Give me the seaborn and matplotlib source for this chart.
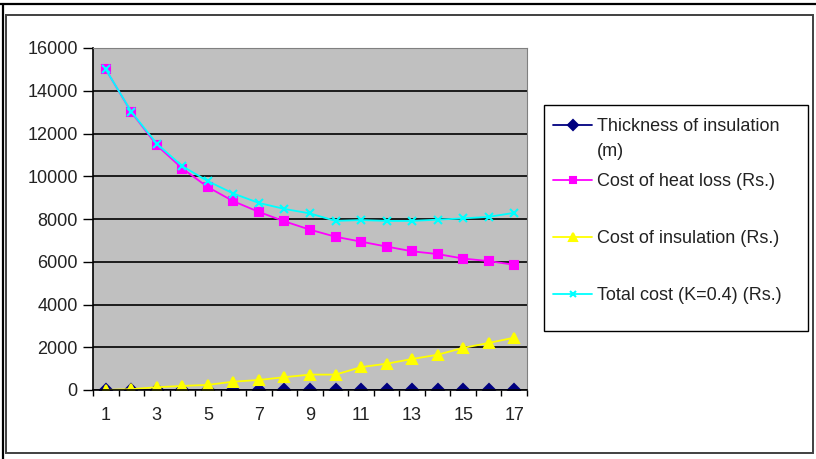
import matplotlib.pyplot as plt
import seaborn as sns
from matplotlib.lines import Line2D
from matplotlib.patches import Rectangle

# Data
steps = list(range(1, 18))
thickness = [0.01, 0.02, 0.03, 0.04, 0.05, 0.06, 0.07, 0.08, 0.09,
             0.10, 0.11, 0.12, 0.13, 0.14, 0.15, 0.16, 0.17]
heat_loss = [15000, 13000, 11450, 10360, 9490, 8830, 8330, 7890, 7500,
             7170, 6940, 6710, 6490, 6360, 6150, 6030, 5860]
insulation = [0, 40, 130, 190, 240, 390, 470, 600, 720,
              720, 1070, 1230, 1450, 1650, 1970, 2200, 2450]
total = [15000, 13020, 11520, 10470, 9770, 9190, 8750, 8470, 8260,
         7910, 7950, 7910, 7910, 7970, 8030, 8100, 8290]

labels = ['Thickness of insulation\n(m)', 'Cost of heat loss (Rs.)',
          'Cost of insulation (Rs.)', 'Total cost (K=0.4) (Rs.)']
colors = ['#000080', '#FF00FF', '#FFFF00', '#00FFFF']
markers = ['D', 's', '^', 'x']
sizes = [6, 6, 7, 6]

sns.set_style('white')
plt.rcParams['font.family'] = ['Liberation Sans', 'DejaVu Sans']

W, H = 816, 459
fig = plt.figure(figsize=(W / 100, H / 100), dpi=100)
ax = fig.add_axes([93 / W, 1 - 390 / H, (527 - 93) / W, (390 - 48) / H])
ax.set_facecolor('#C0C0C0')

series = [thickness, heat_loss, insulation, total]
for vals, c, m, s in zip(series, colors, markers, sizes):
    sns.lineplot(x=steps, y=vals, color=c, marker=m, markersize=s,
                 markeredgecolor=c, markeredgewidth=1.5, linewidth=1.3, ax=ax)

ax.set_xlim(0.5, 17.5)
ax.set_ylim(0, 16000)
ax.set_yticks(range(0, 16001, 2000))
ax.set_xticks(range(1, 18, 2))
ax.set_xticks([i + 0.5 for i in range(0, 18)], minor=True)
ax.tick_params(axis='x', which='major', length=0, pad=12, labelsize=13)
ax.tick_params(axis='x', which='minor', length=4, width=1, color='black', direction='out')
ax.tick_params(axis='y', length=7, width=1, color='black', direction='out', labelsize=13, pad=4)
ax.tick_params(left=True, bottom=True, which='both')
ax.grid(axis='y', color='black', linewidth=1.2)
ax.set_axisbelow(True)
for side in ['top', 'right']:
    ax.spines[side].set_color('#808080')
for side in ['left', 'bottom']:
    ax.spines[side].set_color('black')
    ax.spines[side].set_linewidth(1.2)
for lab in ax.get_xticklabels() + ax.get_yticklabels():
    lab.set_color('#222222')

def fx(px):
    return px / W

def fy(py):
    return 1 - py / H

# Outer frame lines
fig.add_artist(Line2D([0, 1], [fy(3.5), fy(3.5)], color='black', linewidth=1.6))
fig.add_artist(Line2D([fx(2.5), fx(2.5)], [0, fy(3.5)], color='black', linewidth=1.6))
fig.add_artist(Rectangle((fx(6), fy(453)), fx(813) - fx(6), fy(15) - fy(453),
                         fill=False, edgecolor='#404040', linewidth=1.4))

# Legend box drawn by hand so markers line up with the first text line
fig.add_artist(Rectangle((fx(544), fy(331)), fx(808) - fx(544), fy(105) - fy(331),
                         fill=False, edgecolor='black', linewidth=1.0))
row_y = [125, 180, 237, 294]
for lab, c, m, s, yy in zip(labels, colors, markers, sizes, row_y):
    fig.add_artist(Line2D([fx(553), fx(592)], [fy(yy), fy(yy)], color=c, linewidth=1.3))
    fig.add_artist(Line2D([fx(572.5)], [fy(yy)], color=c, marker=m, markersize=s - 1,
                          markeredgecolor=c, markeredgewidth=1.5))
    fig.text(fx(597), fy(yy - 7), lab, fontsize=13, color='#222222',
             va='top', ha='left', linespacing=1.65)

fig.savefig('out.png', dpi=100)
